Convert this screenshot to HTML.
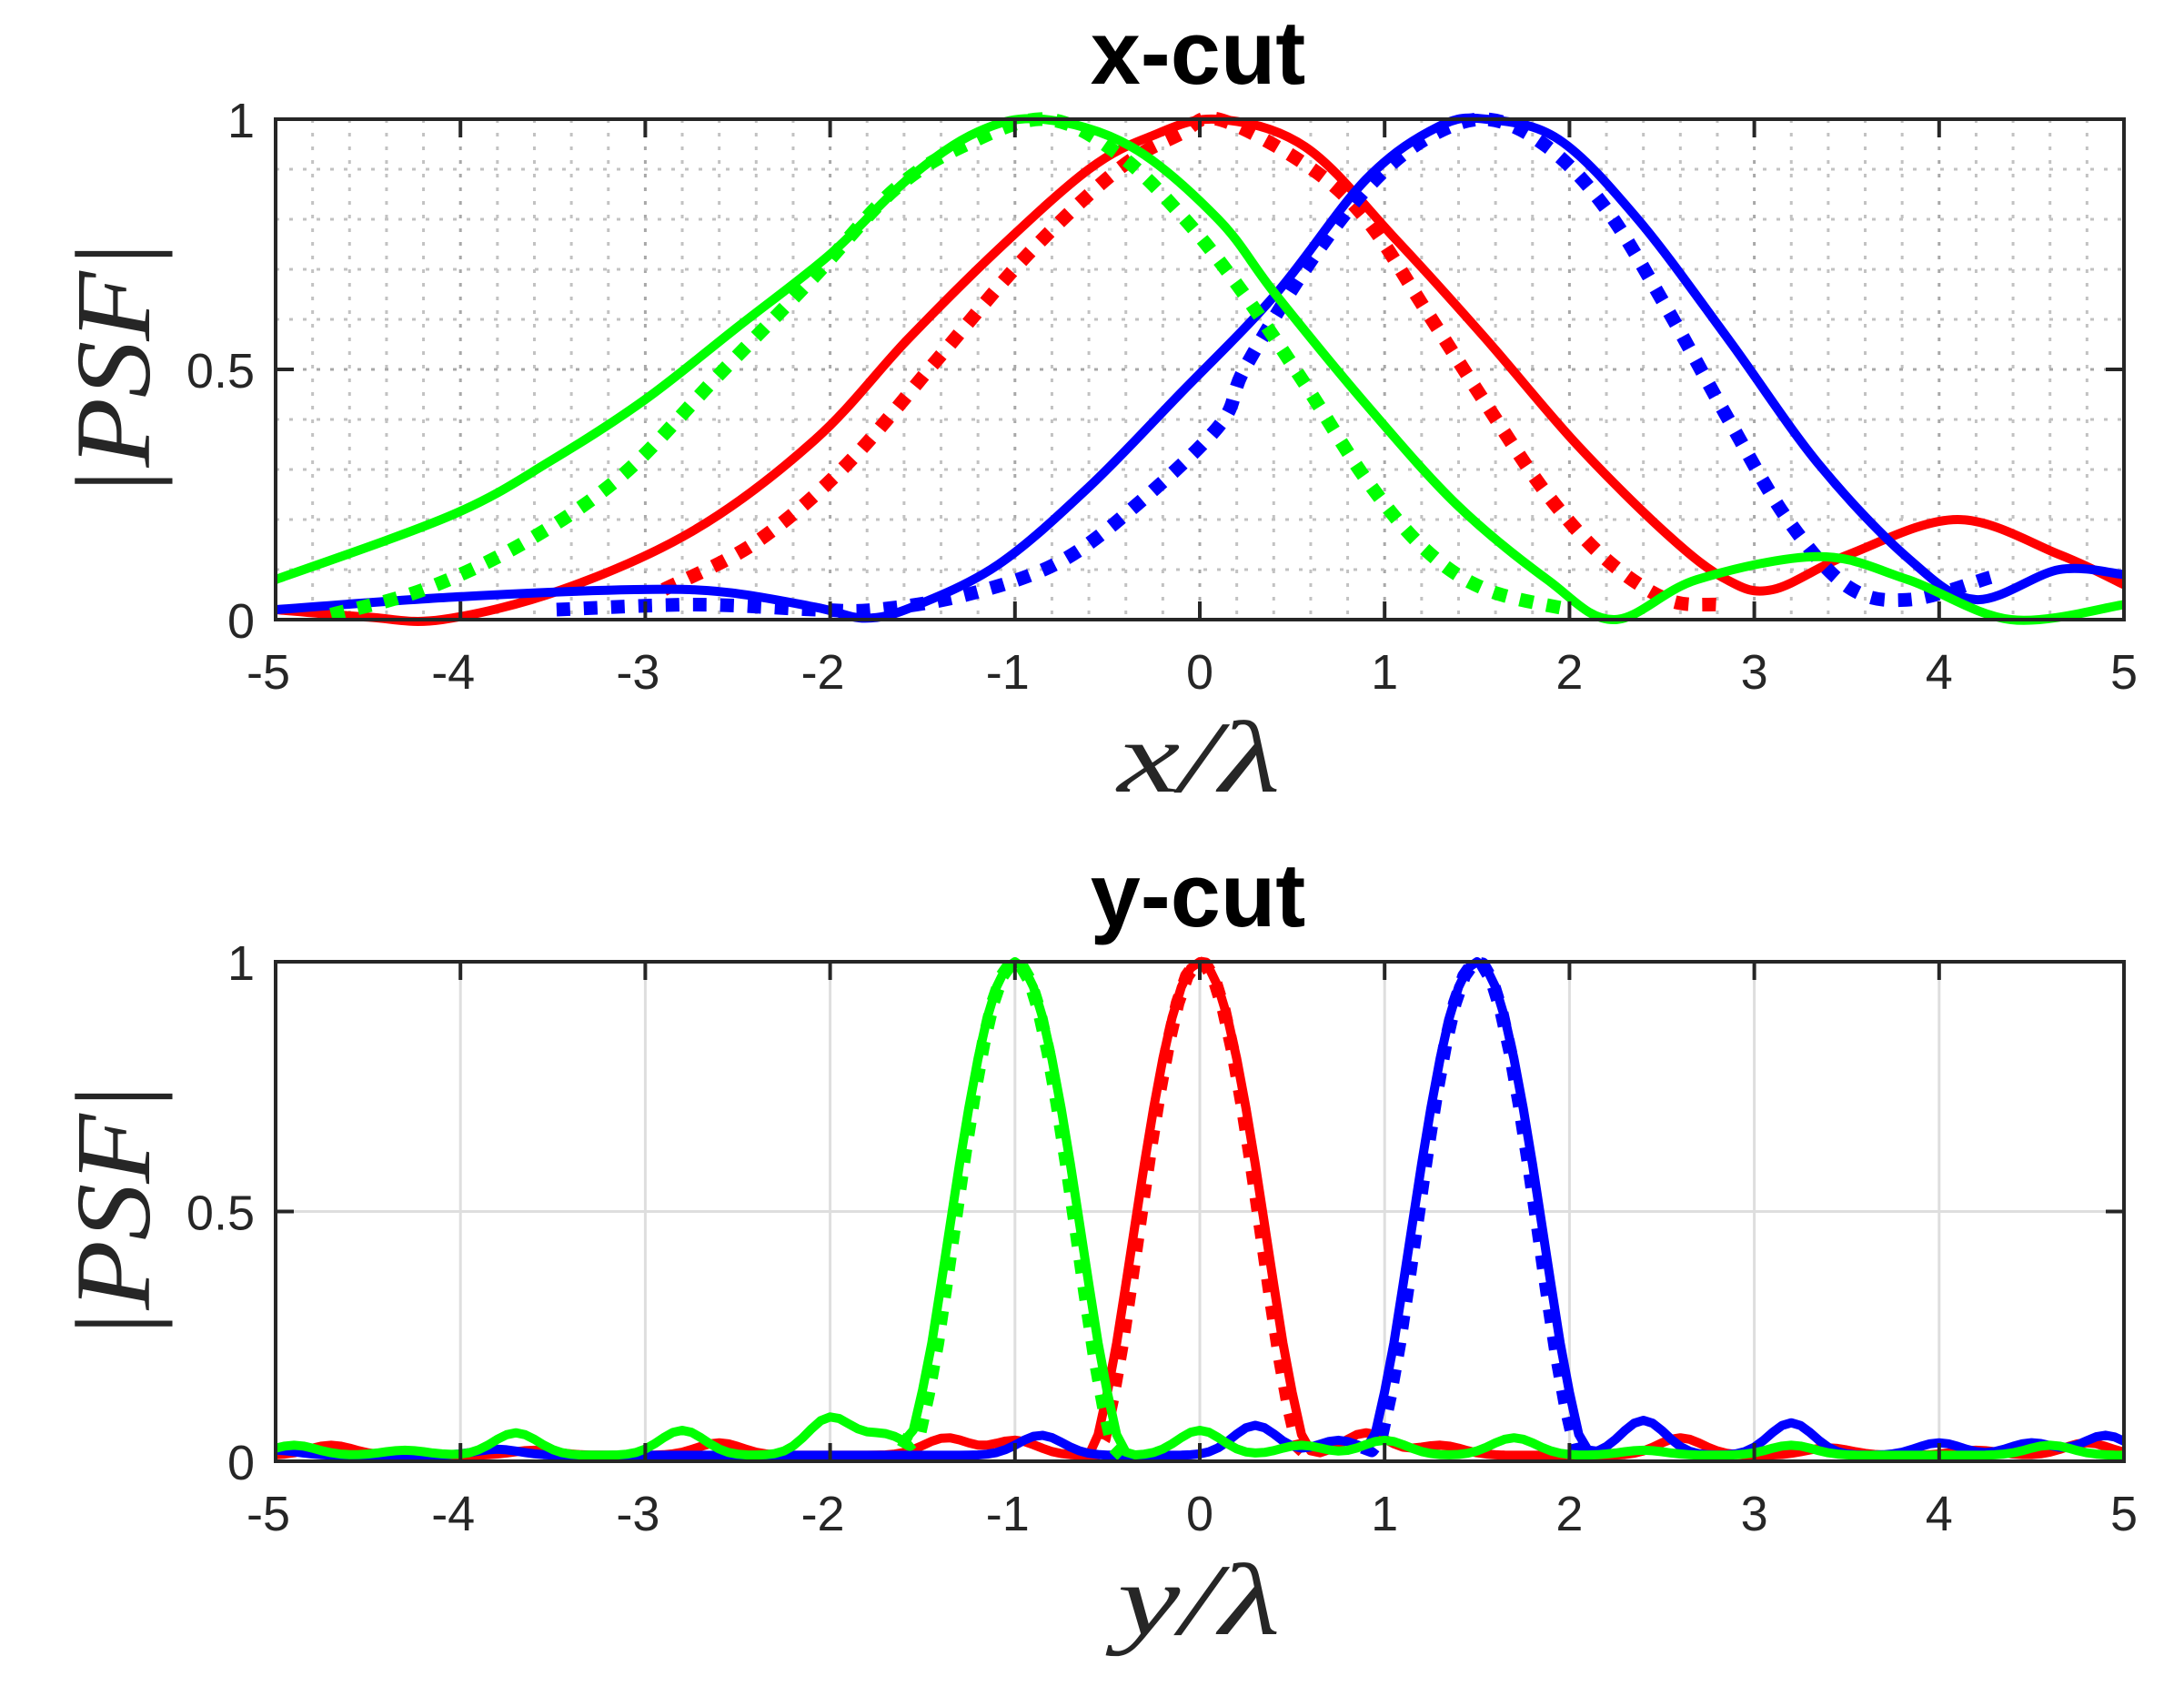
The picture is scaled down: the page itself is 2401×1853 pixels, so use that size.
<!DOCTYPE html>
<html><head><meta charset="utf-8"><style>
html,body{margin:0;padding:0;background:#fff;}
svg{display:block;}
</style></head><body>
<svg id="s" width="2401" height="1853" viewBox="0 0 2401 1853" xmlns="http://www.w3.org/2000/svg">
<rect width="2401" height="1853" fill="#fff"/>
<g id="grid"></g>
<g id="curves"></g>
<g id="axes"></g>
<g font-family="'Liberation Sans', Arial, sans-serif" fill="#262626">
<text x="1317" y="92" font-size="99" font-weight="bold" text-anchor="middle" fill="#000">x-cut</text>
<text x="1317" y="1018" font-size="99" font-weight="bold" text-anchor="middle" fill="#000">y-cut</text>
<g id="ticklabels" font-size="54"></g>
</g>
<g font-family="'Liberation Serif', 'Times New Roman', serif" font-style="italic" fill="#262626">
<text transform="translate(164,406) rotate(-90)" font-size="118" text-anchor="middle" textLength="284" lengthAdjust="spacingAndGlyphs">|PSF|</text>
<text transform="translate(164,1332) rotate(-90)" font-size="118" text-anchor="middle" textLength="284" lengthAdjust="spacingAndGlyphs">|PSF|</text>
<text x="1318" y="870" font-size="112" text-anchor="middle" textLength="179" lengthAdjust="spacingAndGlyphs">x/λ</text>
<text x="1318" y="1796" font-size="112" text-anchor="middle" textLength="179" lengthAdjust="spacingAndGlyphs">y/λ</text>
</g>
</svg>
<script>
(function(){
var NS="http://www.w3.org/2000/svg";
function el(parent,tag,attrs,text){var e=document.createElementNS(NS,tag);for(var k in attrs)e.setAttribute(k,attrs[k]);if(text!==undefined)e.textContent=text;document.getElementById(parent).appendChild(e);return e;}
var X0=303,X1=2335;
var axesY=[[131,681],[1057,1606]];
function sx(x){return X0+(x+5)/10*(X1-X0);}
function sy(i,y){var a=axesY[i];return a[1]-y*(a[1]-a[0]);}
for(var k=1;k<50;k++){var x=-5+k*0.2;var px=sx(x);
 el("grid","line",{x1:px,y1:axesY[0][0],x2:px,y2:axesY[0][1],stroke:(k%5==0)?"#a8a8a8":"#c2c2c2","stroke-width":3,"stroke-dasharray":"4 11"});}
for(var k=1;k<10;k++){var py=sy(0,k*0.1);
 el("grid","line",{x1:X0,y1:py,x2:X1,y2:py,stroke:(k==5)?"#a8a8a8":"#c2c2c2","stroke-width":3,"stroke-dasharray":"4 11"});}
for(var k=-4;k<=4;k++){var px=sx(k);el("grid","line",{x1:px,y1:axesY[1][0],x2:px,y2:axesY[1][1],stroke:"#dedede","stroke-width":3});}
el("grid","line",{x1:X0,y1:sy(1,0.5),x2:X1,y2:sy(1,0.5),stroke:"#dedede","stroke-width":3});

function catmull(pts){
 var d="M"+pts[0][0].toFixed(1)+" "+pts[0][1].toFixed(1);
 for(var i=0;i<pts.length-1;i++){
  var p0=pts[i-1]||pts[i],p1=pts[i],p2=pts[i+1],p3=pts[i+2]||pts[i+1];
  var c1=[p1[0]+(p2[0]-p0[0])/6,p1[1]+(p2[1]-p0[1])/6];
  var c2=[p2[0]-(p3[0]-p1[0])/6,p2[1]-(p3[1]-p1[1])/6];
  d+=" C"+c1[0].toFixed(1)+" "+c1[1].toFixed(1)+" "+c2[0].toFixed(1)+" "+c2[1].toFixed(1)+" "+p2[0].toFixed(1)+" "+p2[1].toFixed(1);
 }
 return d;}
function plotPts(i,data,color,dotted){
 var pts=data.map(function(p){return [sx(p[0]),sy(i,p[1])];});
 var a={d:catmull(pts),fill:"none",stroke:color,"stroke-linejoin":"round"};
 if(dotted){a["stroke-width"]=15;a["stroke-dasharray"]="15 15";}else{a["stroke-width"]=10;}
 el("curves","path",a);}
var R="#ff0000",G="#00ff00",B="#0000ff";
var redS=[[-5,0.02],[-4.5,0.005],[-4.1,0.0],[-3.45,0.06],[-2.73,0.18],[-2.08,0.36],[-1.58,0.56],[-1.09,0.74],[-0.6,0.9],[-0.27,0.965],[0.09,1.0],[0.57,0.945],[1.06,0.76],[1.55,0.56],[2.04,0.35],[2.53,0.17],[2.85,0.08],[3.1,0.06],[3.51,0.13],[4.1,0.2],[4.65,0.13],[5,0.07]];
var redD=[[-2.9,0.06],[-2.4,0.155],[-1.91,0.31],[-1.42,0.52],[-0.93,0.73],[-0.44,0.9],[-0.11,0.97],[0.1,1.0],[0.57,0.91],[0.9,0.8],[1.22,0.62],[1.55,0.43],[1.88,0.25],[2.2,0.12],[2.53,0.04],[2.8,0.03]];
var bluS=[[-5,0.02],[-4.04,0.045],[-3.06,0.06],[-2.57,0.055],[-2.08,0.025],[-1.81,0.003],[-1.55,0.026],[-1.09,0.11],[-0.6,0.265],[-0.11,0.45],[0.41,0.65],[0.9,0.88],[1.29,0.985],[1.55,1.0],[1.94,0.96],[2.37,0.8],[2.86,0.56],[3.35,0.31],[3.84,0.12],[4.2,0.04],[4.65,0.1],[5,0.09]];
var bluD=[[-3.48,0.02],[-2.73,0.03],[-2.08,0.02],[-1.75,0.02],[-1.26,0.05],[-0.76,0.115],[-0.34,0.23],[0.11,0.39],[0.24,0.5],[0.57,0.7],[0.9,0.86],[1.22,0.96],[1.55,1.0],[1.88,0.945],[2.2,0.82],[2.53,0.62],[2.86,0.4],[3.18,0.2],[3.51,0.065],[3.84,0.04],[4.28,0.085]];
var grnS=[[-5,0.08],[-4.04,0.21],[-3.5,0.32],[-3.0,0.44],[-2.5,0.585],[-2.0,0.73],[-1.58,0.88],[-1.2,0.975],[-0.85,1.0],[-0.37,0.945],[0.1,0.8],[0.41,0.65],[0.9,0.43],[1.39,0.23],[1.88,0.08],[2.24,0.0],[2.69,0.08],[3.35,0.126],[3.83,0.08],[4.39,0.0],[5,0.03]];
var grnD=[[-4.7,0.01],[-4.2,0.06],[-3.65,0.155],[-3.12,0.29],[-2.6,0.49],[-2.1,0.68],[-1.65,0.86],[-1.26,0.95],[-0.83,1.0],[-0.44,0.93],[-0.08,0.8],[0.24,0.65],[0.57,0.47],[0.9,0.28],[1.22,0.14],[1.55,0.06],[2.0,0.02]];
plotPts(0,redS,R,false);plotPts(0,redD,R,true);
plotPts(0,bluS,B,false);plotPts(0,bluD,B,true);
plotPts(0,grnS,G,false);plotPts(0,grnD,G,true);
function lobe(d,w){if(Math.abs(d)>=w)return 0;return Math.pow(Math.cos(Math.PI*d/(2*w)),1.5);}
function floorF(x,b){var s=0.012;for(var j=0;j<b.length;j++){s+=b[j][1]*Math.exp(-Math.pow((x-b[j][0])/0.17,2));}return s;}
var bR=[[-4.7,0.02],[-3.6,0.01],[-2.6,0.025],[-1.37,0.035],[-1.0,0.03],[0.9,0.045],[1.3,0.02],[2.6,0.035],[3.4,0.015],[4.2,0.01],[4.8,0.025]];
var bG=[[-4.9,0.02],[-4.3,0.01],[-3.7,0.045],[-2.8,0.05],[-2.0,0.075],[-1.7,0.04],[0.0,0.05],[0.55,0.02],[1.0,0.03],[1.7,0.035],[2.4,0.01],[3.2,0.02],[4.6,0.02]];
var bB=[[-5,0.01],[-3.8,0.012],[-0.86,0.04],[0.3,0.06],[0.75,0.03],[2.4,0.07],[3.2,0.065],[4.0,0.025],[4.5,0.025],[4.9,0.04]];
function bottom(c,w,fl,color,dotted,range){
 var pts=[];var a=range?c-range:-5,b=range?c+range:5;
 for(var x=a;x<=b+1e-9;x+=0.05){var m=lobe(x-c,w);var f=floorF(x,fl);var y=Math.max(m,f)+ (m>0&&m<0.2?f*0.5:0);pts.push([sx(x),sy(1,Math.min(y,1))]);}
 var d="M"+pts.map(function(p){return p[0].toFixed(1)+" "+p[1].toFixed(1);}).join(" L");
 var at={d:d,fill:"none",stroke:color,"stroke-linejoin":"round"};
 if(dotted){at["stroke-width"]=15;at["stroke-dasharray"]="15 15";}else{at["stroke-width"]=10;}
 el("curves","path",at);}
bottom(0,0.6,bR,R,false);bottom(0,0.56,bR,R,true,0.62);
bottom(1.5,0.6,bB,B,false);bottom(1.5,0.56,bB,B,true,0.62);
bottom(-1,0.6,bG,G,false);bottom(-1,0.56,bG,G,true,0.62);
for(var i=0;i<2;i++){var t=axesY[i][0],b=axesY[i][1];
 el("axes","rect",{x:X0,y:t,width:X1-X0,height:b-t,fill:"none",stroke:"#262626","stroke-width":4});
 for(var k=-4;k<=4;k++){var px=sx(k);
  el("axes","line",{x1:px,y1:b,x2:px,y2:b-20,stroke:"#262626","stroke-width":4});
  el("axes","line",{x1:px,y1:t,x2:px,y2:t+20,stroke:"#262626","stroke-width":4});}
 var py=sy(i,0.5);
 el("axes","line",{x1:X0,y1:py,x2:X0+20,y2:py,stroke:"#262626","stroke-width":4});
 el("axes","line",{x1:X1,y1:py,x2:X1-20,y2:py,stroke:"#262626","stroke-width":4});
 for(var k=-5;k<=5;k++){el("ticklabels","text",{x:sx(k)+(k<0?-8:0),y:b+76,"text-anchor":"middle"},String(k));}
 el("ticklabels","text",{x:280,y:t+20,"text-anchor":"end"},"1");
 el("ticklabels","text",{x:280,y:sy(i,0.5)+20,"text-anchor":"end"},"0.5");
 el("ticklabels","text",{x:280,y:b+20,"text-anchor":"end"},"0");
}
})();
</script>
</body></html>
